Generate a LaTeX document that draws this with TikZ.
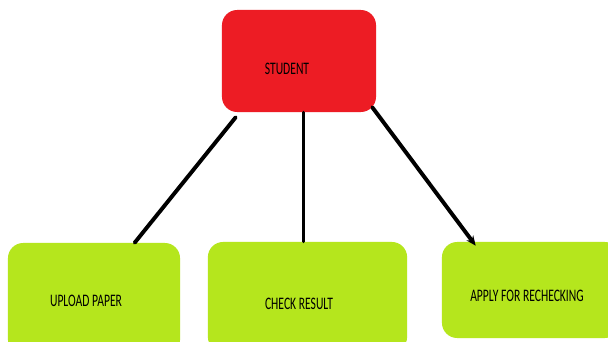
\documentclass[tikz,border=0pt]{standalone}
\usepackage{fontspec}
\setmainfont[FakeStretch=0.66]{Carlito}
\usetikzlibrary{arrows.meta}

\tikzset{
  box/.style={rectangle, rounded corners=0.38cm, inner sep=0pt},
  every label/.style={inner sep=0pt, font=\fontsize{12.5}{14}\selectfont},
  link/.style={line width=2.8pt, line cap=round}
}

\begin{document}
\begin{tikzpicture}[x=0.025cm, y=-0.025cm]
  \clip (0,0) rectangle (608,342);
  \fill[white] (0,0) rectangle (608,342);
  % boxes
  \node (student) at (299,61)  [box, fill={rgb,255:red,237;green,28;blue,36}, minimum width=3.85cm, minimum height=2.55cm,
    label={[shift={(-0.3cm,-0.2cm)}]center:STUDENT}] {};
  \node (upload)  at (94,299)  [box, fill={rgb,255:red,181;green,230;blue,29}, minimum width=4.3cm, minimum height=2.8cm,
    label={[shift={(-0.2cm,-0.05cm)}]center:UPLOAD PAPER}] {};
  \node (check)   at (307.5,297) [box, fill={rgb,255:red,181;green,230;blue,29}, minimum width=4.98cm, minimum height=2.75cm,
    label={[shift={(-0.21cm,-0.18cm)}]center:CHECK RESULT}] {};
  \node (apply)   at (531,290) [box, fill={rgb,255:red,181;green,230;blue,29}, minimum width=4.45cm, minimum height=2.4cm,
    label={[shift={(-0.1cm,-0.15cm)}]center:APPLY FOR RECHECKING}] {};
  % links
  \draw[link] ([shift={(14,5)}]student.south west) -- ([shift={(127,0)}]upload.north west);
  \draw[link, line width=2.2pt] ([xshift=3]student.south) -- ([xshift=3]student.south |- check.north);
  \draw[link, -{Stealth[length=7pt,width=6pt]}] ([shift={(-4,-5)}]student.south east) -- ([shift={(34,4)}]apply.north west);
\end{tikzpicture}
\end{document}
